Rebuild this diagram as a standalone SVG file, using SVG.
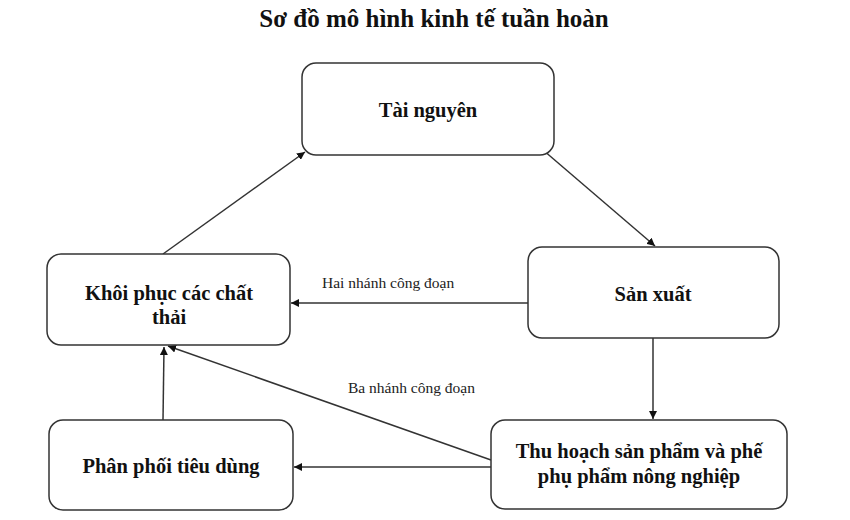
<svg xmlns="http://www.w3.org/2000/svg" width="850" height="520" viewBox="0 0 850 520">
<style>
.box{fill:#fff;stroke:#333;stroke-width:1.5}
.t{font-family:"Liberation Serif","Times New Roman",serif;font-weight:bold;font-size:20.5px;fill:#111;text-anchor:middle}
.title{font-family:"Liberation Serif","Times New Roman",serif;font-weight:bold;font-size:25px;fill:#111;text-anchor:middle}
.lbl{font-family:"Liberation Serif","Times New Roman",serif;font-size:15.5px;fill:#222}
.c{stroke:#333;stroke-width:1.5;fill:none;marker-end:url(#ah)}
</style>
<defs>
<marker id="ah" viewBox="0 0 10 10" refX="10" refY="5" markerWidth="8" markerHeight="8" orient="auto" markerUnits="userSpaceOnUse">
<path d="M0,0 L10,5 L0,10 z" fill="#111"/>
</marker>
</defs>
<rect width="850" height="520" fill="#fff"/>
<text class="title" x="434" y="27">Sơ đồ mô hình kinh tế tuần hoàn</text>
<g id="connectors">
<line class="c" x1="163" y1="254" x2="305" y2="152"/>
<line class="c" x1="543" y1="150" x2="655" y2="246"/>
<line class="c" x1="528" y1="303" x2="291" y2="303"/>
<line class="c" x1="653" y1="338" x2="653" y2="419"/>
<line class="c" x1="491" y1="467" x2="294" y2="467"/>
<line class="c" x1="491" y1="460" x2="168" y2="346"/>
<line class="c" x1="163" y1="420" x2="164" y2="347"/>
<text class="lbl" x="322" y="288">Hai nhánh công đoạn</text>
<text class="lbl" x="348" y="393">Ba nhánh công đoạn</text>
</g>
<g id="tai-nguyen">
<rect class="box" x="302" y="63" width="252" height="92" rx="14"/>
<text class="t" x="428" y="117">Tài nguyên</text>
</g>
<g id="khoi-phuc">
<rect class="box" x="47" y="254" width="243" height="91" rx="14"/>
<text class="t" x="169" y="300">Khôi phục các chất</text>
<text class="t" x="169" y="324">thải</text>
</g>
<g id="san-xuat">
<rect class="box" x="528" y="247" width="251" height="91" rx="14"/>
<text class="t" x="653" y="301">Sản xuất</text>
</g>
<g id="phan-phoi">
<rect class="box" x="49" y="420" width="244" height="90" rx="14"/>
<text class="t" x="171" y="473">Phân phối tiêu dùng</text>
</g>
<g id="thu-hoach">
<rect class="box" x="491" y="420" width="296" height="89" rx="14"/>
<text class="t" x="639" y="458">Thu hoạch sản phẩm và phế</text>
<text class="t" x="639" y="483">phụ phẩm nông nghiệp</text>
</g>
</svg>
